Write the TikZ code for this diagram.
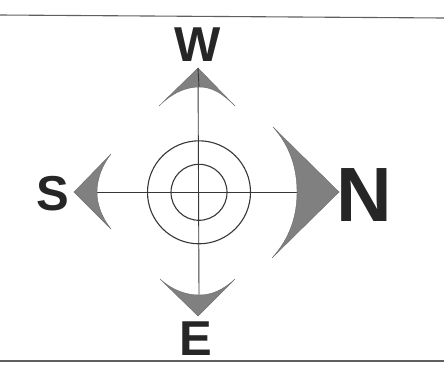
\documentclass[tikz,border=0pt]{standalone}
\usepackage{fontspec}
\setmainfont{Liberation Sans}
\definecolor{headgray}{RGB}{128,128,128}
\definecolor{inkdark}{RGB}{38,38,38}
\definecolor{linegray}{RGB}{55,55,55}
\definecolor{rulegray}{RGB}{95,95,95}
\begin{document}
\begin{tikzpicture}[x=1pt,y=-1pt,
  axis/.style={draw=linegray,line width=0.9pt},
  ring/.style={draw=linegray,line width=1.1pt},
  headshape/.style={fill=headgray,draw=headgray!85!black,line width=0.4pt,line join=miter},
  letter/.style={text=inkdark,inner sep=0pt,anchor=base,font=\fontsize{49}{49}\selectfont\bfseries},
  bigletter/.style={letter,font=\fontsize{77}{77}\selectfont\bfseries},
  rule/.style={draw=rulegray,line width=1.1pt}]
\useasboundingbox (0,0) rectangle (444,373);
% rules
\coordinate (tl) at (0,15); \coordinate (tr) at (444,18);
\coordinate (bl) at (0,361); \coordinate (br) at (444,361);
\draw[rule] (tl) -- (tr);
\draw[rule] (bl) -- (br);
% centre
\coordinate (c) at (199,192.3);
% arrowhead reference points
\coordinate (wtip) at (198,68);   \coordinate (wl) at (159,106); \coordinate (wr) at (235,106);
\coordinate (ntip) at (339,192);  \coordinate (nu) at (273,127); \coordinate (nd) at (272,258);
\coordinate (stip) at (74,192);   \coordinate (su) at (111,154); \coordinate (sd) at (111,229);
\coordinate (etip) at (198,316);  \coordinate (el) at (160,279); \coordinate (er) at (235,279);
\coordinate (win) at (199,87);  \coordinate (nin) at (297,192);
\coordinate (sin) at (97,192);  \coordinate (ein) at (199,295);
% axes
\draw[axis] (sin) -- (nin);
\draw[axis] (wtip) -- (ein);
% rings
\draw[ring] (c) circle[radius=51.5];
\draw[ring] (c) circle[radius=28];
% arrowheads
\path[headshape] (wtip) -- (wr) .. controls (222,93) and (212,87) .. (win)
  .. controls (186,87) and (172,93) .. (wl) -- cycle;
\path[headshape] (ntip) -- (nd) .. controls (290,238) and (297,216) .. (nin)
  .. controls (297,168) and (290,146) .. (nu) -- cycle;
\path[headshape] (stip) -- (su) .. controls (103,164) and (97,178) .. (sin)
  .. controls (97,206) and (103,219) .. (sd) -- cycle;
\path[headshape] (etip) -- (el) .. controls (172,290) and (186,295) .. (ein)
  .. controls (212,295) and (223,290) .. (er) -- cycle;
\draw[axis] (wtip) -- (win);
% labels
\node[letter] (W) at (198,61) {W};
\node[bigletter] (N) at (364.5,221) {N};
\node[letter] (S) at (52.5,210) {S};
\node[letter] (E) at (196,355) {E};
\end{tikzpicture}
\end{document}
